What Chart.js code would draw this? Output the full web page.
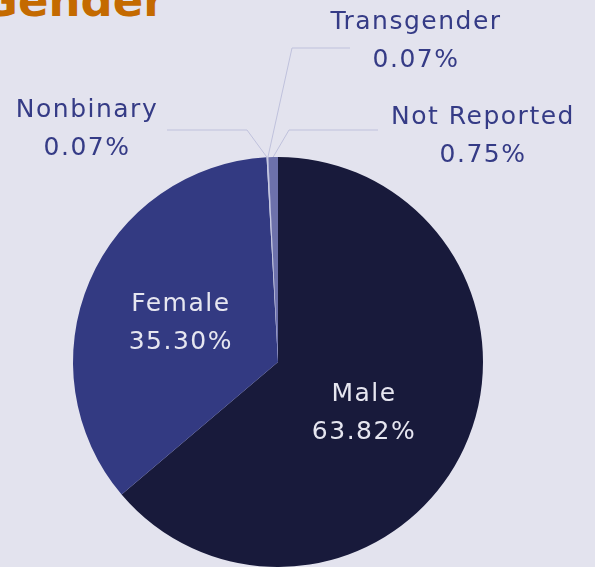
<!DOCTYPE html>
<html>
<head>
<meta charset="utf-8">
<script src="https://cdn.jsdelivr.net/npm/chart.js@4"></script>
<style>
  html, body { margin: 0; padding: 0; background: #e3e3ee; overflow: hidden; }
  #wrap { position: relative; width: 595px; height: 567px; }
  #title {
    position: absolute; left: -19px; top: -22px; margin: 0;
    font: 700 45px "DejaVu Sans", sans-serif; color: #c46a00; line-height: 1;
  }
  canvas { position: absolute; left: 0; top: 0; }
</style>
</head>
<body>
<div id="wrap">
  <h1 id="title">Gender</h1>
  <canvas id="genderChart" width="595" height="567"></canvas>
</div>
<script>
// Gender breakdown (percent)
var categories = ['Male', 'Female', 'Nonbinary', 'Transgender', 'Not Reported'];
var shares = [63.82, 35.30, 0.07, 0.07, 0.75];
var shareLabels = ['63.82%', '35.30%', '0.07%', '0.07%', '0.75%'];
var sliceColors = ['#181a3b', '#333a82', '#c9cbe2', '#b4b7da', '#6d71ab'];

// labels inside the slice (nudged from the slice centre)
var insideLabels = {
    0: { nudge: [-7, 8] },
    1: { nudge: [-3, 2] }
};
// labels outside with a leader line
var outsideLabels = {
    2: { elbow: [247, 130], end: [167, 130], text: [87, 110] },
    3: { elbow: [292, 48], end: [350, 48], text: [416, 22] },
    4: { elbow: [289, 130], end: [378, 130], text: [483, 117] }
};

var labelFont = '400 25px "DejaVu Sans", sans-serif';

var labelPlugin = {
    id: 'pieLabels',
    afterDatasetsDraw: function (chart) {
        var ctx = chart.ctx;
        var meta = chart.getDatasetMeta(0);
        ctx.save();
        ctx.textAlign = 'center';
        ctx.textBaseline = 'middle';
        ctx.font = labelFont;
        ctx.letterSpacing = '1.5px';

        Object.keys(insideLabels).forEach(function (k) {
            var i = +k;
            var arc = meta.data[i];
            var mid = (arc.startAngle + arc.endAngle) / 2;
            var r = arc.outerRadius * 0.5;
            var x = arc.x + Math.cos(mid) * r + insideLabels[k].nudge[0];
            var y = arc.y + Math.sin(mid) * r + insideLabels[k].nudge[1];
            ctx.fillStyle = '#e6e6f0';
            ctx.fillText(categories[i], x, y - 19);
            ctx.fillText(shareLabels[i], x, y + 19);
        });

        Object.keys(outsideLabels).forEach(function (k) {
            var i = +k;
            var o = outsideLabels[k];
            var arc = meta.data[i];
            var mid = (arc.startAngle + arc.endAngle) / 2;
            var sx = arc.x + Math.cos(mid) * arc.outerRadius;
            var sy = arc.y + Math.sin(mid) * arc.outerRadius;
            ctx.strokeStyle = '#bfc1dc';
            ctx.lineWidth = 1;
            ctx.beginPath();
            ctx.moveTo(sx, sy);
            ctx.lineTo(o.elbow[0], o.elbow[1]);
            ctx.lineTo(o.end[0], o.end[1]);
            ctx.stroke();
            ctx.fillStyle = '#353b86';
            ctx.fillText(categories[i], o.text[0], o.text[1]);
            ctx.fillText(shareLabels[i], o.text[0], o.text[1] + 38);
        });
        ctx.restore();
    }
};

var ctx = document.getElementById('genderChart').getContext('2d');
new Chart(ctx, {
    type: 'pie',
    data: {
        labels: categories,
        datasets: [{
            data: shares,
            backgroundColor: sliceColors,
            borderWidth: 0
        }]
    },
    options: {
        responsive: false,
        animation: false,
        layout: { padding: { left: 73, right: 112, top: 157, bottom: 0 } },
        plugins: {
            legend: { display: false },
            tooltip: { enabled: false }
        }
    },
    plugins: [labelPlugin]
});
</script>
</body>
</html>
